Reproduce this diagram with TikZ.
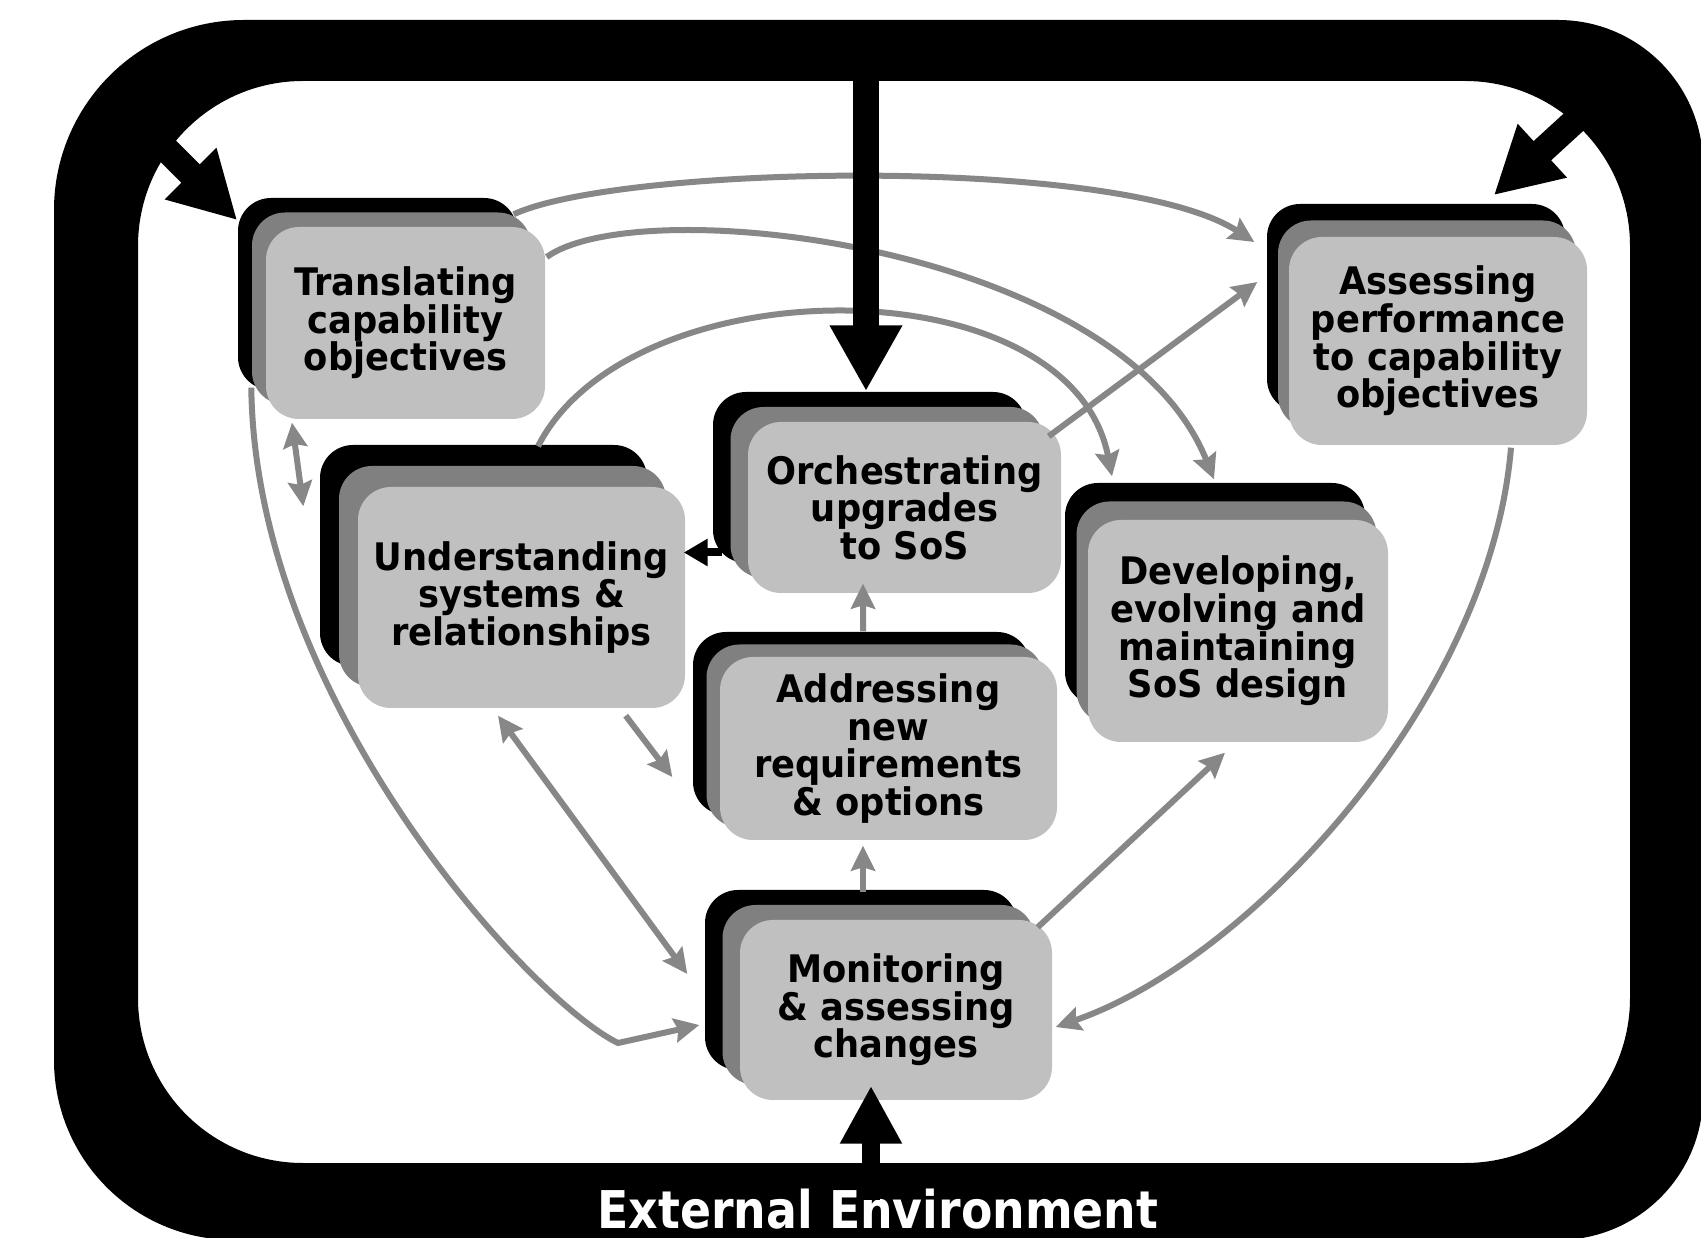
\documentclass[tikz,border=0pt]{standalone}
\usepackage{fontspec}
\setmainfont{DejaVu Sans}
\newfontfamily\boxfont{DejaVu Sans}[FakeStretch=0.93]
\newfontfamily\envfont{DejaVu Sans}[FakeStretch=0.88]
\usetikzlibrary{arrows.meta}
\definecolor{boxlight}{HTML}{C0C0C0}
\definecolor{boxmid}{HTML}{808080}
\definecolor{linegray}{HTML}{878787}

\tikzset{
  backbox/.style={fill=black, draw=none, rounded corners=3.3mm, inner sep=0pt},
  midbox/.style={fill=boxmid, draw=none, rounded corners=3.3mm, inner sep=0pt},
  frontbox/.style={fill=boxlight, draw=none, rounded corners=3.3mm, inner sep=0pt,
     align=center, text=black, font=\boxfont\bfseries\fontsize{10.8}{10.7}\selectfont},
  gtip/.tip={Stealth[length=2.5mm,width=2.4mm,inset=0.35mm]},
  conn/.style={draw=linegray, line width=0.6mm, -gtip},
  dconn/.style={draw=linegray, line width=0.6mm, gtip-gtip},
  bigarrow/.style={draw=black, line width=2.6mm, -{Triangle[width=6.8mm,length=6.6mm]}},
  medarrow/.style={draw=black, line width=1.8mm, -{Triangle[width=5.8mm,length=5.8mm]}},
  smallarrow/.style={draw=black, line width=0.8mm, -{Triangle[width=2.6mm,length=2.4mm]}},
}

% #1 name, #2 x1, #3 y1, #4 x2, #5 y2 (front box, px), #6 dx, #7 dy (back offset), #8 text
\newcommand{\stackbox}[8]{%
  \node[backbox, minimum width={(#4-#2)*0.1mm}, minimum height={(#5-#3)*0.1mm}]
     (#1b) at ({(#2+#4)/2+(#6)},{(#3+#5)/2+(#7)}) {};
  \node[midbox, minimum width={(#4-#2)*0.1mm}, minimum height={(#5-#3)*0.1mm}]
     (#1m) at ({(#2+#4)/2+(#6)/2},{(#3+#5)/2+(#7)/2}) {};
  \node[frontbox, minimum width={(#4-#2)*0.1mm}, minimum height={(#5-#3)*0.1mm}]
     (#1) at ({(#2+#4)/2},{(#3+#5)/2}) {#8};
}

\begin{document}
\begin{tikzpicture}[x=0.1mm,y=-0.1mm]
\useasboundingbox (0,0) rectangle (1701,1238);
\clip (0,0) rectangle (1701,1238);
\fill[white] (0,0) rectangle (1701,1238);

% frame
\fill[black, even odd rule]
  (244,20) -- (1558,20) arc[start angle=270,end angle=360,radius=145]
  -- (1703,1095) arc[start angle=0,end angle=90,radius=145]
  -- (234,1240) arc[start angle=90,end angle=180,radius=180]
  -- (54,210) arc[start angle=180,end angle=270,radius=190] -- cycle
  [rounded corners=16.5mm] (138,81) rectangle (1630,1163);

\node[anchor=base, text=white, font=\envfont\bfseries\fontsize{14.8}{15}\selectfont]
  (env) at (878,1228) {External Environment};

% boxes
\stackbox{T}{266}{227}{545}{419}{-28}{-29}{Translating\\capability\\objectives}
\stackbox{A}{1289}{237}{1587}{445}{-22}{-33}{Assessing\\performance\\to capability\\objectives}
\stackbox{O}{748}{422}{1061}{593}{-35}{-30}{Orchestrating\\upgrades\\to SoS}
\stackbox{U}{358}{487}{685}{708}{-38}{-42}{Understanding\\systems \&\\relationships}
\stackbox{R}{720}{657}{1057}{840}{-27}{-25}{Addressing\\new\\requirements\\\& options}
\stackbox{D}{1088}{520}{1388}{742}{-23}{-37}{Developing,\\evolving and\\maintaining\\SoS design}
\stackbox{M}{740}{920}{1052}{1100}{-35}{-30}{Monitoring\\\& assessing\\changes}

% free ends
\coordinate (envtop) at (866,40);
\coordinate (envbot) at (871,1200);
\coordinate (envtl) at (128,111);
\coordinate (envtr) at (1613,86);
\coordinate (kink) at (618,1043);

% gray connectors
\draw[conn] ([shift={(-4,17)}]Tb.north east) .. controls (620,165) and (1120,155) .. ([shift={(-12,-66)}]Ab.west);
\draw[conn] ([shift={(1,-66)}]T.east) .. controls (640,190) and (1120,244) .. ([shift={(-1,-3)}]Db.north);
\draw[conn] ([shift={(54.5,2)}]Ub.north) .. controls (630,265) and (1070,262) .. ([shift={(-103,-6)}]Db.north);
\draw[conn] ([shift={(-13,15)}]O.north east) -- ([shift={(-9,-26)}]Ab.west);
\draw[dconn] ([shift={(-113.5,3)}]T.south) -- ([shift={(-16,62)}]Ub.north west);
\draw[conn] ([shift={(14,-3)}]Tb.south west) .. controls (255,700) and (530,1000) .. (kink) -- ([shift={(-5,45)}]Mb.west);
\draw[dconn] ([shift={(-23.5,7)}]U.south) -- ([shift={(-17,-6)}]Mb.west);
\draw[conn] ([shift={(-60,7)}]U.south east) -- ([shift={(-20,53.5)}]Rb.west);
\draw[conn] ([shift={(1.5,0)}]Rb.north) -- ([shift={(-41.5,-10)}]O.south);
\draw[conn] ([shift={(2,3)}]Mb.north) -- ([shift={(-25.5,5)}]R.south);
\draw[conn] ([shift={(-15,8)}]M.north east) -- ([shift={(-13,10)}]D.south);
\draw[conn] ([shift={(73,2)}]A.south) .. controls (1490,700) and (1250,960) .. ([shift={(3,17)}]M.east);

% black arrows
\draw[bigarrow] (envtop) -- ([xshift=-0.35mm]Ob.north);
\draw[bigarrow] (envtl) -- ([shift={(0,23)}]Tb.north west);
\draw[bigarrow] (envtr) -- ([shift={(-72,-8)}]Ab.north east);
\draw[medarrow] (envbot) -- ([shift={(-25,-15)}]M.south);
\draw[smallarrow] ([shift={(10,75)}]Ob.west) -- ([shift={(-2,-45)}]U.east);
\end{tikzpicture}
\end{document}
